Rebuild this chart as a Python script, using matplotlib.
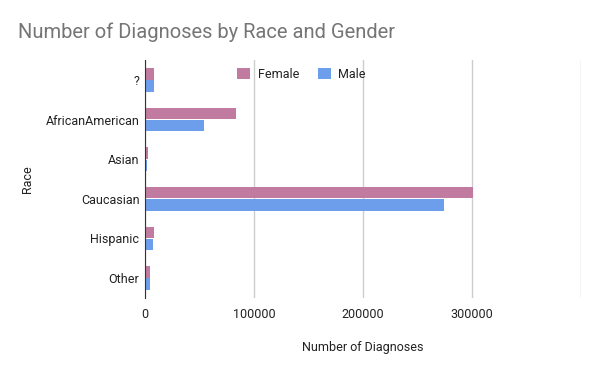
import numpy as np
import matplotlib
matplotlib.use("Agg")
import matplotlib.pyplot as plt

# --- data ---------------------------------------------------------------
races = ["?", "AfricanAmerican", "Asian", "Caucasian", "Hispanic", "Other"]
female = [8000, 83500, 2500, 300500, 8000, 5000]
male = [8000, 54000, 2000, 274000, 7000, 5000]
xticks = [0, 100000, 200000, 300000]

female_color = "#C27BA0"
male_color = "#6D9EEB"

plt.rcParams["font.family"] = ["Roboto", "DejaVu Sans"]

fig = plt.figure(figsize=(6, 3.71), dpi=100)
ax = fig.add_axes([0.2417, 0.197, 0.7266, 0.641])

y = np.arange(len(races))
h = 0.29
ax.barh(y - h / 2 - 0.01, female, height=h, color=female_color, label="Female", zorder=3)
ax.barh(y + h / 2 + 0.01, male, height=h, color=male_color, label="Male", zorder=3)

ax.set_ylim(len(races) - 0.5, -0.5)
ax.set_yticks(y)
ax.set_yticklabels(races, fontsize=9, color="#222222")
ax.set_xlim(0, 400000)
ax.set_xticks(xticks + [400000])
ax.set_xticklabels([str(v) for v in xticks] + [""], fontsize=9, color="#222222")
ax.tick_params(axis="y", length=0, pad=4)
ax.tick_params(axis="x", length=0, pad=7)
ax.grid(axis="x", color="#cccccc", linewidth=1, zorder=0)

for s in ["top", "right", "bottom"]:
    ax.spines[s].set_visible(False)
ax.spines["left"].set_color("#333333")
ax.spines["left"].set_zorder(4)

ax.set_ylabel("Race", fontsize=9, color="#222222", labelpad=8)
ax.set_xlabel("Number of Diagnoses", fontsize=9, color="#222222", labelpad=15)

fig.text(0.03, 0.912, "Number of Diagnoses by Race and Gender", fontsize=14.5,
         color="#757575", va="center", ha="left")

leg = ax.legend(loc="upper left", bbox_to_anchor=(0.185, 1.015), ncol=2, frameon=False,
                fontsize=9, handlelength=1.05, handleheight=1.05, columnspacing=1.5,
                handletextpad=0.6)
for t in leg.get_texts():
    t.set_color("#222222")

fig.savefig("out.png", dpi=100)
